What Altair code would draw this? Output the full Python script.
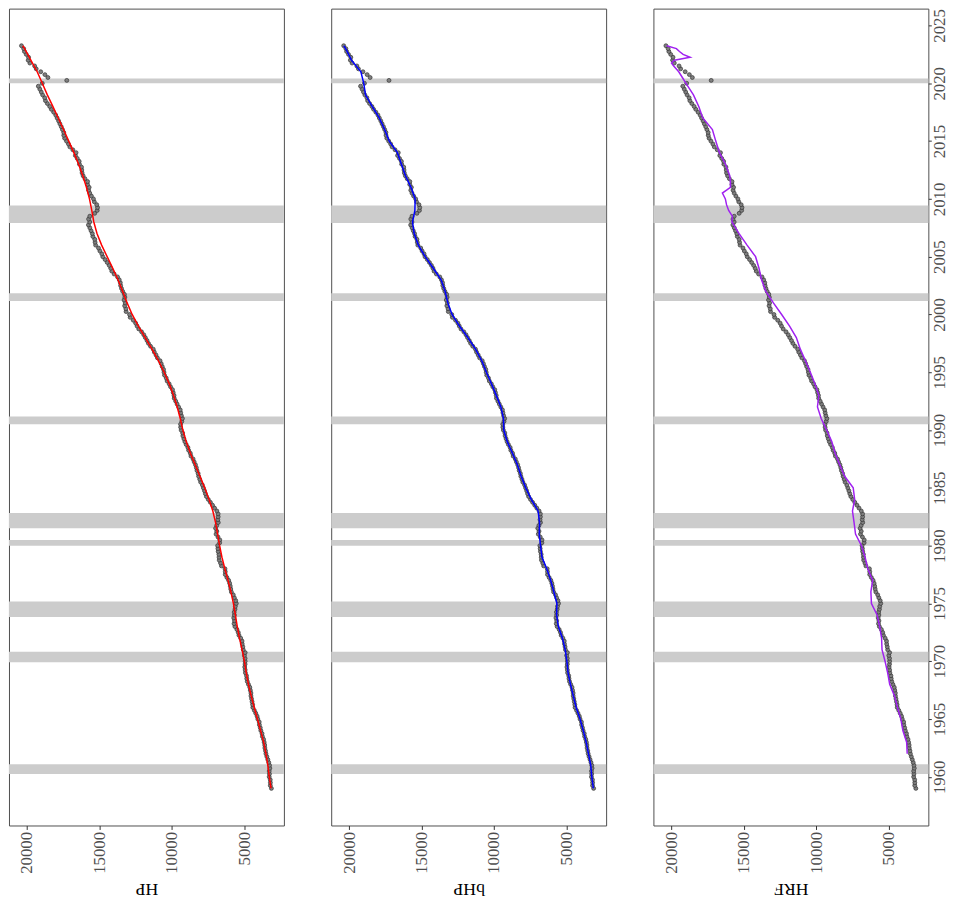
import altair as alt
import pandas as pd

# Quarterly real GDP, 1959Q1 onwards
gdp = [
    3123.2, 3198.4, 3194.7, 3203.6, 3275.8, 3258.1, 3274.0, 3232.0,
    3253.8, 3309.1, 3372.3, 3438.7, 3500.1, 3531.7, 3575.1, 3586.8,
    3625.3, 3666.7, 3747.1, 3771.8, 3851.4, 3893.3, 3954.1, 3966.3,
    4062.3, 4113.6, 4205.1, 4301.9, 4406.0, 4421.0, 4459.1, 4495.8,
    4535.6, 4538.4, 4581.3, 4615.9, 4709.9, 4788.7, 4825.8, 4844.1,
    4920.6, 4935.6, 4968.2, 4943.0, 4936.6, 4943.6, 4989.2, 4935.7,
    5069.7, 5097.2, 5139.1, 5151.2, 5245.8, 5365.0, 5415.7, 5506.4,
    5642.7, 5704.1, 5674.1, 5727.0, 5678.7, 5692.2, 5638.4, 5616.5,
    5548.2, 5587.8, 5683.4, 5759.0, 5889.5, 5932.7, 5965.3, 6008.5,
    6079.5, 6197.7, 6309.5, 6309.7, 6329.8, 6574.4, 6640.5, 6729.8,
    6741.9, 6749.1, 6799.2, 6816.2, 6837.6, 6696.8, 6688.8, 6813.5,
    6947.0, 6895.6, 6978.1, 6902.1, 6794.9, 6825.9, 6799.8, 6802.5,
    6892.1, 7048.9, 7189.9, 7339.9, 7483.4, 7612.7, 7686.1, 7749.2,
    7824.2, 7893.1, 8013.7, 8073.2, 8148.6, 8185.3, 8263.6, 8308.0,
    8369.9, 8460.2, 8533.6, 8680.2, 8725.0, 8839.6, 8891.4, 9009.9,
    9101.5, 9170.9, 9238.9, 9257.1, 9359.0, 9392.3, 9398.5, 9312.9,
    9269.4, 9341.6, 9388.8, 9421.6, 9534.3, 9637.7, 9732.0, 9834.5,
    9850.9, 9908.3, 9955.6, 10091.0, 10189.0, 10327.0, 10387.4, 10506.4,
    10543.6, 10575.1, 10665.1, 10737.5, 10817.9, 10998.3, 11096.9, 11212.2,
    11284.6, 11472.1, 11615.6, 11715.4, 11832.5, 11942.0, 12091.6, 12287.0,
    12403.3, 12498.7, 12662.4, 12877.6, 12924.2, 13160.8, 13178.4, 13260.5,
    13222.7, 13300.0, 13244.8, 13280.9, 13397.0, 13478.2, 13538.1, 13559.0,
    13634.3, 13751.5, 13985.1, 14145.6, 14221.1, 14329.5, 14464.9, 14609.9,
    14771.6, 14839.8, 14972.1, 15066.6, 15267.0, 15302.7, 15326.4, 15456.9,
    15493.3, 15582.1, 15666.7, 15762.0, 15671.4, 15752.3, 15667.0, 15328.0,
    15155.9, 15134.1, 15189.2, 15356.1, 15415.1, 15557.3, 15671.9, 15750.6,
    15712.8, 15825.1, 15820.7, 16004.1, 16129.4, 16198.8, 16220.7, 16239.1,
    16383.0, 16403.2, 16531.7, 16663.6, 16616.5, 16841.5, 17047.1, 17143.0,
    17278.0, 17405.7, 17463.2, 17468.9, 17556.8, 17639.4, 17735.1, 17824.2,
    17925.3, 18021.0, 18163.6, 18322.5, 18438.3, 18598.1, 18732.7, 18783.5,
    18927.3, 19021.9, 19121.1, 19221.9, 18952.0, 17258.2, 18560.8, 18767.8,
    19055.7, 19368.3, 19478.9, 19806.3, 19924.1, 19895.3, 20054.7, 20182.5,
    20235.9, 20386.5,
]
gdp_years = [1959 + i / 4 for i in range(len(gdp))]

trend_years = list(range(1959, 2024)) + [2023.25]
hp_trend = [
    3150, 3270, 3370, 3500, 3660, 3870, 4090, 4310, 4520, 4710,
    4860, 4990, 5150, 5330, 5480, 5610, 5750, 5920, 6120, 6340,
    6540, 6700, 6840, 6980, 7170, 7430, 7730, 8060, 8390, 8720,
    9010, 9240, 9420, 9630, 9880, 10180, 10530, 10930, 11370, 11840,
    12310, 12740, 13090, 13400, 13720, 14080, 14470, 14850, 15170, 15390,
    15530, 15690, 15900, 16150, 16440, 16770, 17120, 17480, 17850, 18220,
    18600, 18950, 19300, 19740, 20170, 20300,
]
bhp_trend = [
    3140, 3250, 3320, 3480, 3640, 3840, 4060, 4330, 4530, 4720,
    4890, 4970, 5090, 5280, 5560, 5680, 5660, 5870, 6090, 6360,
    6690, 6790, 6880, 6860, 6960, 7430, 7810, 8130, 8390, 8730,
    9090, 9330, 9350, 9530, 9850, 10180, 10530, 10850, 11280, 11810,
    12390, 12900, 13190, 13380, 13660, 14200, 14760, 15230, 15520, 15630,
    15470, 15450, 15740, 16120, 16400, 16680, 17240, 17560, 17930, 18420,
    18880, 19000, 19200, 19850, 20250, 20380,
]
hrf_years = [
    1962, 1963, 1964, 1965, 1966, 1967, 1968, 1969, 1970, 1971,
    1972, 1973, 1974, 1975, 1976, 1977, 1978, 1979, 1980, 1981,
    1982, 1983, 1984, 1985, 1986, 1987, 1988, 1989, 1990, 1991,
    1992, 1993, 1994, 1995, 1996, 1997, 1998, 1999, 2000, 2001,
    2002, 2003, 2004, 2005, 2006, 2007, 2008, 2008.5, 2009, 2009.5,
    2010, 2010.5, 2010.75, 2011, 2011.5, 2012, 2013, 2014, 2015, 2016,
    2017, 2018, 2019, 2020, 2020.5, 2021, 2021.5, 2021.75, 2022, 2022.25,
    2022.5, 2022.75, 2023, 2023.25,
]
hrf_trend = [
    3720, 3760, 4020, 4160, 4390, 4600, 4930, 5070, 5250, 5460,
    5490, 5620, 5800, 6190, 6230, 6110, 6440, 6630, 6880, 7290,
    7390, 7500, 7350, 7450, 8040, 8380, 8700, 8930, 9285, 9662,
    9919, 9829, 10094, 10411, 10749, 11104, 11378, 11845, 12393, 12963,
    13484, 13783, 13957, 14194, 14781, 15332, 15827, 15800, 16053, 16200,
    16280, 16486, 16200, 15930, 15930, 15975, 16273, 16689, 16943, 17177,
    17838, 18117, 18485, 19000, 19250, 19500, 19850, 20000, 19800, 18716,
    19200, 19450, 19662, 20338,
]

rec_start = [1960.25, 1969.92, 1973.83, 1980.0, 1981.5, 1990.5, 2001.17, 2007.92, 2020.0]
rec_end = [1961.08, 1970.83, 1975.17, 1980.5, 1982.83, 1991.17, 2001.83, 2009.42, 2020.42]

pts_df = pd.DataFrame({"year": gdp_years, "gdp": gdp})
rec_df = pd.DataFrame({"start": rec_start, "end": rec_end})

FONT = "Liberation Serif"
xscale = alt.Scale(domain=[2260, 21249], reverse=True, nice=False, zero=False)
yscale = alt.Scale(domain=[1955.79, 2026.46], nice=False, zero=False)


def make_panel(trend_df, color, title, show_y):
    xaxis = alt.Axis(
        values=[5000, 10000, 15000, 20000], format="d", labelAngle=270,
        labelAlign="right", labelBaseline="middle",
        title=title, titleAngle=180, titleBaseline="bottom", titleAlign="center",
        grid=False, domain=False, ticks=True, tickColor="#333333", tickSize=4,
        labelPadding=2, labelFont=FONT, labelFontSize=17, labelColor="#4d4d4d",
        titleFont=FONT, titleFontSize=18, titleFontWeight="normal",
        titleColor="#000000", titlePadding=6,
    )
    if show_y:
        yaxis = alt.Axis(
            orient="right", values=list(range(1960, 2030, 5)), format="d",
            labelAngle=270, labelAlign="center", labelBaseline="top",
            title=None, grid=False, domain=False, ticks=True,
            tickColor="#333333", tickSize=3, labelPadding=0,
            labelFont=FONT, labelFontSize=17, labelColor="#4d4d4d",
        )
    else:
        yaxis = None
    bands = alt.Chart(rec_df).mark_rect(color="#cccccc").encode(
        y=alt.Y("start:Q", scale=yscale, axis=yaxis),
        y2="end:Q",
    )
    pts = alt.Chart(pts_df).mark_circle(
        fill="#7f7f7f", stroke="#333333", strokeWidth=0.7, size=16, opacity=1
    ).encode(
        x=alt.X("gdp:Q", scale=xscale, axis=xaxis),
        y=alt.Y("year:Q", scale=yscale, axis=yaxis),
    )
    line = alt.Chart(trend_df).mark_line(color=color, strokeWidth=1.5).encode(
        x=alt.X("value:Q", scale=xscale, axis=xaxis),
        y=alt.Y("year:Q", scale=yscale, axis=yaxis),
        order="year:Q",
    )
    return alt.layer(bands, pts, line).properties(width=279, height=829)


hp_df = pd.DataFrame({"year": trend_years, "value": hp_trend})
bhp_df = pd.DataFrame({"year": trend_years, "value": bhp_trend})
hrf_df = pd.DataFrame({"year": hrf_years, "value": hrf_trend})

chart = alt.hconcat(
    make_panel(hp_df, "#ff0000", "HP", False),
    make_panel(bhp_df, "#0000ff", "bHP", False),
    make_panel(hrf_df, "#a020f0", "HRF", True),
    spacing=46,
).properties(
    padding={"left": 0, "top": -7, "right": 4, "bottom": -2}
).configure_view(
    stroke="#4d4d4d", strokeWidth=1
)

chart.save("out.html", embed_options={"renderer": "svg", "actions": False})
